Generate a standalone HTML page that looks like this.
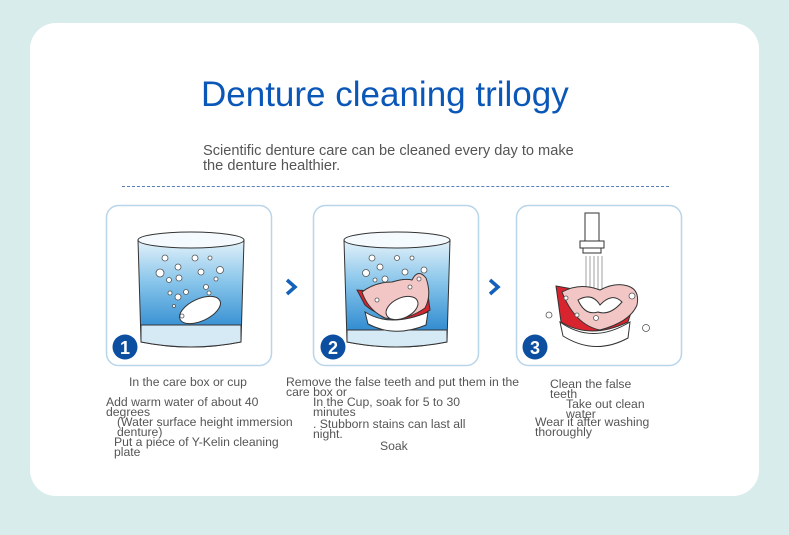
<!DOCTYPE html>
<html><head><meta charset="utf-8"><style>
body{margin:0;width:789px;height:535px;background:#d9ecec;position:relative;overflow:hidden;font-family:"Liberation Sans",Arial,sans-serif}
.card{position:absolute;left:30px;top:23px;width:729px;height:473px;background:#fff;border-radius:26px}
.t{position:absolute;color:#555;font-size:12.2px;line-height:10px;white-space:nowrap}
</style></head><body>
<div class="card"></div>
<div style="position:absolute;left:201px;top:74px;font-size:35px;color:#0b57b8;line-height:42px">Denture cleaning trilogy</div>
<div style="position:absolute;left:203px;top:144px;font-size:14.6px;color:#555;line-height:15px">Scientific denture care can be cleaned every day to make<br>the denture healthier.</div>
<div style="position:absolute;left:122px;top:186px;width:547px;border-top:1px dashed #5a7fb8"></div>
<svg width="789" height="535" style="position:absolute;left:0;top:0">
<defs>
<linearGradient id="w" x1="0" y1="0" x2="0" y2="1"><stop offset="0" stop-color="#e4f2fa"/><stop offset="0.4" stop-color="#86c4ea"/><stop offset="1" stop-color="#1479c8"/></linearGradient>
</defs>
<g fill="#fff" stroke="#b9d5ea" stroke-width="1.5">
<rect x="106.5" y="205.5" width="165" height="160" rx="12"/>
<rect x="313.5" y="205.5" width="165" height="160" rx="12"/>
<rect x="516.5" y="205.5" width="165" height="160" rx="12"/>
</g>
<g stroke="#333" stroke-width="1">
<path d="M138 240 L141 342 Q191 352 241 342 L244 240 Z" fill="url(#w)"/>
<path d="M141 325 L241 325 L241 342 Q191 352 141 342 Z" fill="#d6eaf6"/>
<ellipse cx="191" cy="240" rx="53" ry="8" fill="#f4fafd"/>
<ellipse cx="200" cy="310" rx="22" ry="11" fill="#fff" transform="rotate(-25 200 310)"/>
</g>
<g fill="#fff" stroke="#555" stroke-width="0.8">
<circle cx="165" cy="258" r="3"/><circle cx="195" cy="258" r="3"/><circle cx="210" cy="258" r="2"/>
<circle cx="160" cy="273" r="4"/><circle cx="178" cy="267" r="3"/><circle cx="201" cy="272" r="3"/><circle cx="220" cy="270" r="3.5"/>
<circle cx="169" cy="280" r="2.5"/><circle cx="179" cy="278" r="3"/><circle cx="216" cy="279" r="2"/>
<circle cx="170" cy="293" r="2"/><circle cx="178" cy="297" r="3"/><circle cx="186" cy="292" r="2.5"/><circle cx="206" cy="287" r="2.5"/><circle cx="209" cy="293" r="2"/>
<circle cx="174" cy="306" r="1.5"/><circle cx="182" cy="316" r="2"/>
</g>
<g stroke="#333" stroke-width="1">
<path d="M344 240 L347 342 Q397 352 447 342 L450 240 Z" fill="url(#w)"/>
<path d="M347 330 L447 330 L447 342 Q397 352 347 342 Z" fill="#d6eaf6"/>
<ellipse cx="397" cy="240" rx="53" ry="8" fill="#f4fafd"/>
<path d="M357 290 L365 305 Q380 318 410 322 L430 310 L428 295 Z" fill="#d8242e"/>
<path d="M362 292 Q375 282 392 282 Q405 278 412 280 Q418 268 426 278 Q432 295 425 308 Q405 322 385 318 Q368 310 362 292 Z" fill="#f3c6c6"/>
<path d="M365 312 Q390 328 428 312 L426 325 Q395 338 368 324 Z" fill="#fff"/>
<ellipse cx="402" cy="308" rx="17" ry="10" fill="#fff" transform="rotate(-25 402 308)"/>
</g>
<g fill="#fff" stroke="#555" stroke-width="0.8">
<circle cx="372" cy="258" r="3"/><circle cx="397" cy="258" r="2.5"/><circle cx="412" cy="258" r="2"/>
<circle cx="366" cy="273" r="3.5"/><circle cx="380" cy="267" r="3"/><circle cx="405" cy="272" r="3"/><circle cx="424" cy="270" r="3"/>
<circle cx="375" cy="280" r="2"/><circle cx="385" cy="279" r="3"/><circle cx="419" cy="279" r="2"/>
<circle cx="377" cy="300" r="2"/><circle cx="410" cy="287" r="2"/>
</g>
<g stroke="#333" stroke-width="1" fill="#fff">
<rect x="585" y="213" width="14" height="28"/>
<rect x="580" y="241" width="24" height="7"/>
<rect x="583" y="248" width="18" height="5"/>
</g>
<g stroke="#888" stroke-width="0.8">
<line x1="586" y1="256" x2="586" y2="300"/><line x1="590" y1="256" x2="590" y2="300"/><line x1="594" y1="256" x2="594" y2="300"/><line x1="598" y1="256" x2="598" y2="300"/><line x1="602" y1="256" x2="602" y2="300"/>
</g>
<g stroke="#333" stroke-width="1">
<path d="M556 286 L561 322 Q590 340 628 322 L635 300 Z" fill="#d8242e"/>
<path d="M562 292 Q580 282 600 290 Q615 282 628 286 Q640 290 637 305 Q630 322 600 330 Q575 325 562 292 Z" fill="#f3c6c6"/>
<path d="M560 322 Q592 345 630 322 L628 338 Q595 356 563 336 Z" fill="#fff"/>
<path d="M578 300 Q592 292 600 305 Q612 292 622 302 Q610 316 598 312 Q585 316 578 300 Z" fill="#fff"/>
</g>
<g fill="#fff" stroke="#555" stroke-width="0.8">
<circle cx="549" cy="315" r="3"/><circle cx="566" cy="298" r="2"/><circle cx="596" cy="318" r="2.5"/><circle cx="632" cy="296" r="3"/><circle cx="646" cy="328" r="3.5"/><circle cx="577" cy="315" r="2"/>
</g>
<g fill="none" stroke="#1361b8" stroke-width="3.5">
<path d="M287 280 L295 287 L287 294"/><path d="M490 280 L498 287 L490 294"/>
</g>
<g fill="#0c4ea0"><circle cx="125" cy="347" r="12.5"/><circle cx="333" cy="347" r="12.5"/><circle cx="535" cy="347" r="12.5"/></g>
<g fill="#fff" font-family="Liberation Sans,Arial,sans-serif" font-weight="bold" font-size="18" text-anchor="middle">
<text x="125" y="354">1</text><text x="333" y="354">2</text><text x="535" y="354">3</text></g>
</svg>
<div class="t" style="left:129px;top:377px">In the care box or cup</div>
<div class="t" style="left:106px;top:397px">Add warm water of about 40<br>degrees</div>
<div class="t" style="left:117px;top:417px">(Water surface height immersion<br>denture)</div>
<div class="t" style="left:114px;top:437px">Put a piece of Y-Kelin cleaning<br>plate</div>
<div class="t" style="left:286px;top:377px">Remove the false teeth and put them in the<br>care box or</div>
<div class="t" style="left:313px;top:397px">In the Cup, soak for 5 to 30<br>minutes</div>
<div class="t" style="left:313px;top:419px">. Stubborn stains can last all<br>night.</div>
<div class="t" style="left:380px;top:441px">Soak</div>
<div class="t" style="left:550px;top:379px">Clean the false<br>teeth</div>
<div class="t" style="left:566px;top:399px">Take out clean<br>water</div>
<div class="t" style="left:535px;top:417px">Wear it after washing<br>thoroughly</div>
</body></html>
